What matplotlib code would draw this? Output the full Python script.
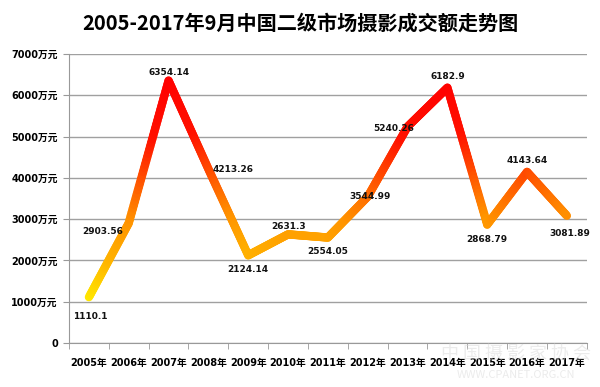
import numpy as np
import matplotlib
matplotlib.use("Agg")
import matplotlib.pyplot as plt
from matplotlib.collections import LineCollection
from matplotlib.colors import LinearSegmentedColormap

plt.rcParams['font.family'] = ['Noto Sans CJK SC', 'DejaVu Sans']
num_font = ['DejaVu Sans', 'Noto Sans CJK SC']

# data
years = ['2005年', '2006年', '2007年', '2008年', '2009年', '2010年', '2011年',
         '2012年', '2013年', '2014年', '2015年', '2016年', '2017年']
values = [1110.1, 2903.56, 6354.14, 4213.26, 2124.14, 2631.3, 2554.05,
          3544.99, 5240.26, 6182.9, 2868.79, 4143.64, 3081.89]
labels = ['1110.1', '2903.56', '6354.14', '4213.26', '2124.14', '2631.3', '2554.05',
          '3544.99', '5240.26', '6182.9', '2868.79', '4143.64', '3081.89']
yticks = [0, 1000, 2000, 3000, 4000, 5000, 6000, 7000]
ytick_labels = ['0'] + ['%d万元' % v for v in yticks[1:]]

# label offsets in points (dx, dy)
offsets = [(1, -14), (-19, -6), (0, 6), (18, 0), (0, -10), (0, 6), (0, -10),
           (2, 0), (-10, -1), (0, 8), (0, -11), (0, 8), (2, -13)]

fig = plt.figure(figsize=(6, 3.87), dpi=100)
ax = fig.add_axes([0.115, 0.1137, 0.863, 0.7468])

x = np.arange(len(values))
y = np.array(values)

# gradient line: yellow (low) -> orange -> red (high), by height
cmap = LinearSegmentedColormap.from_list(
    'yr', [(0, '#ffee00'), (0.19, '#ffb400'), (0.37, '#ff9400'),
           (0.55, '#ff5500'), (0.74, '#ff1200'), (1, '#ff0000')])
segs, cols = [], []
for i in range(len(x) - 1):
    t = np.linspace(0, 1, 40)
    xs = x[i] + (x[i + 1] - x[i]) * t
    ys = y[i] + (y[i + 1] - y[i]) * t
    for j in range(len(t) - 1):
        segs.append([(xs[j], ys[j]), (xs[j + 1], ys[j + 1])])
        cols.append((ys[j] + ys[j + 1]) / 2)
lc = LineCollection(segs, cmap=cmap, norm=plt.Normalize(1000, 6400),
                    linewidths=6, capstyle='round', joinstyle='round', zorder=3)
lc.set_array(np.array(cols))
ax.add_collection(lc)

for xi, yi, lab, (dx, dy) in zip(x, y, labels, offsets):
    ax.annotate(lab, (xi, yi), xytext=(dx, dy), textcoords='offset points',
                ha='center', va='center', fontsize=6.5, fontweight='bold',
                family=num_font, color='#111111', zorder=4)

ax.set_xlim(-0.5, len(values) - 0.5)
ax.set_ylim(0, 7000)
ax.set_yticks(yticks)
ax.set_yticklabels(ytick_labels, fontsize=7, fontweight='bold', family=num_font)
ax.set_xticks(x)
ax.set_xticklabels(years, fontsize=7, fontweight='bold', family=num_font)
ax.set_xticks(np.arange(-0.5, len(values)), minor=True)
ax.tick_params(axis='x', which='major', length=0, pad=11)
ax.tick_params(axis='x', which='minor', length=4, color='#999999')
ax.tick_params(axis='y', length=4, color='#999999', pad=4)
ax.yaxis.grid(True, color='#a0a0a0', linewidth=1)
ax.set_axisbelow(True)
for s in ['top', 'right']:
    ax.spines[s].set_visible(False)
for s in ['left', 'bottom']:
    ax.spines[s].set_color('#999999')

fig.text(0.5, 0.94, '2005-2017年9月中国二级市场摄影成交额走势图', ha='center', va='center',
         fontsize=14.5, fontweight='bold')

# faint watermark
fig.text(0.86, 0.085, '中 国 摄 影 家 协 会', ha='center', va='center', fontsize=13,
         color='#d8d8d8', alpha=0.5, style='italic', zorder=0)
fig.text(0.86, 0.03, 'WWW.CPANET.ORG.CN', ha='center', va='center', fontsize=8,
         color='#d8d8d8', alpha=0.5, zorder=0)

fig.savefig('out.png', dpi=100)
